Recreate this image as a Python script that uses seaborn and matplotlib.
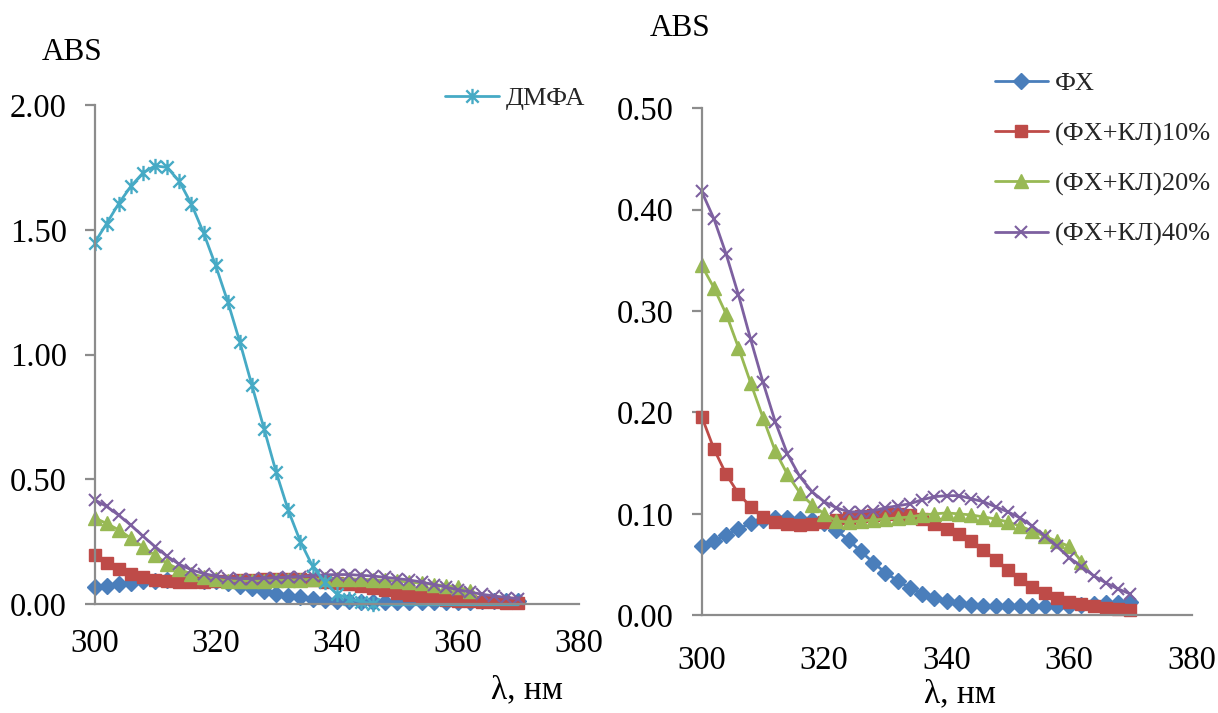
import matplotlib
matplotlib.use("Agg")
import matplotlib.pyplot as plt
import numpy as np
import pandas as pd
import seaborn as sns
from matplotlib.path import Path
from matplotlib.ticker import FormatStrFormatter, MultipleLocator

# ---------------- data ----------------
wavelength = [300, 302, 304, 306, 308, 310, 312, 314, 316, 318, 320, 322,
              324, 326, 328, 330, 332, 334, 336, 338, 340, 342, 344, 346,
              348, 350, 352, 354, 356, 358, 360, 362, 364, 366, 368, 370]

dmfa = [1.447, 1.525, 1.605, 1.674, 1.728, 1.756, 1.750, 1.694, 1.603, 1.488,
        1.357, 1.212, 1.050, 0.876, 0.702, 0.528, 0.375, 0.250, 0.152, 0.088,
        0.040, 0.022, 0.008, 0.002, -0.003, -0.003, -0.003, -0.003, -0.003,
        -0.003, -0.003, -0.003, -0.003, -0.003, -0.003, -0.003]

fx = [0.068, 0.073, 0.079, 0.085, 0.091, 0.094, 0.096, 0.096, 0.095, 0.094,
      0.091, 0.084, 0.074, 0.063, 0.052, 0.042, 0.034, 0.027, 0.021, 0.017,
      0.014, 0.012, 0.010, 0.0095, 0.009, 0.009, 0.009, 0.009, 0.009, 0.0095,
      0.0095, 0.010, 0.011, 0.012, 0.012, 0.013]

fx_kl10 = [0.196, 0.164, 0.139, 0.120, 0.107, 0.097, 0.092, 0.090, 0.089, 0.090,
           0.092, 0.094, 0.096, 0.098, 0.099, 0.100, 0.100, 0.099, 0.095, 0.090,
           0.085, 0.080, 0.073, 0.064, 0.055, 0.045, 0.036, 0.028, 0.022, 0.017,
           0.013, 0.011, 0.009, 0.007, 0.006, 0.005]

fx_kl20 = [0.345, 0.323, 0.297, 0.264, 0.229, 0.195, 0.162, 0.139, 0.121, 0.109,
           0.100, 0.093, 0.092, 0.093, 0.094, 0.095, 0.096, 0.097, 0.099, 0.100,
           0.101, 0.100, 0.099, 0.097, 0.095, 0.092, 0.088, 0.083, 0.078, 0.073,
           0.068, 0.053]

fx_kl40 = [0.418, 0.391, 0.356, 0.316, 0.272, 0.230, 0.191, 0.159, 0.137, 0.122,
           0.112, 0.106, 0.102, 0.102, 0.103, 0.106, 0.108, 0.110, 0.114, 0.117,
           0.118, 0.118, 0.115, 0.112, 0.107, 0.102, 0.096, 0.088, 0.078, 0.068,
           0.057, 0.048, 0.039, 0.032, 0.026, 0.021]

labels = ["ФХ", "(ФХ+КЛ)10%", "(ФХ+КЛ)20%", "(ФХ+КЛ)40%"]
dmfa_label = "ДМФА"
x_ticks = [300, 320, 340, 360, 380]
y_label = "ABS"
x_label = "λ, нм"

# ---------------- style ----------------
sns.set_theme(style="white")
plt.rcParams["font.family"] = ["Liberation Serif", "DejaVu Serif"]

W, H = 1218, 713
fig = plt.figure(figsize=(W / 100, H / 100), dpi=100)
fig.patch.set_facecolor("white")

axL = fig.add_axes([94.5 / W, 1 - 604 / H, (579 - 94.5) / W, (604 - 105) / H])
axR = fig.add_axes([701.7 / W, 1 - 615.3 / H, (1191.7 - 701.7) / W, (615.3 - 108.3) / H])

C_BLUE, C_RED, C_GREEN, C_PURPLE, C_CYAN = "#4A7EBB", "#BE4B48", "#98B954", "#7D60A0", "#46AAC5"

ast_verts = [(-0.5, -0.5), (0.5, 0.5), (-0.5, 0.5), (0.5, -0.5), (0.0, -0.62), (0.0, 0.62)]
ast_codes = [Path.MOVETO, Path.LINETO, Path.MOVETO, Path.LINETO, Path.MOVETO, Path.LINETO]
asterisk = Path(ast_verts, ast_codes)

series = [
    (fx, labels[0], C_BLUE, "D", 8.5, C_BLUE, 1.0),
    (fx_kl10, labels[1], C_RED, "s", 9.0, C_RED, 1.0),
    (fx_kl20, labels[2], C_GREEN, "^", 10.0, C_GREEN, 1.0),
    (fx_kl40, labels[3], C_PURPLE, "x", 9.0, "none", 1.5),
]


def draw_series(ax, with_labels):
    handles = []
    for vals, lab, col, mk, ms, mfc, mew in series:
        df = pd.DataFrame({"x": wavelength[:len(vals)], "y": vals})
        sns.lineplot(data=df, x="x", y="y", ax=ax, color=col, linewidth=2.0,
                     marker=mk, markersize=ms, markerfacecolor=mfc,
                     markeredgecolor=col, markeredgewidth=mew, clip_on=False,
                     label=lab if with_labels else None, legend=False)
        handles.append(ax.get_lines()[-1])
    return handles


def style_axes(ax, ymax, ystep, xpad):
    ax.set_xlim(300, 380)
    ax.set_ylim(0, ymax)
    ax.set_xticks(x_ticks)
    ax.yaxis.set_major_locator(MultipleLocator(ystep))
    ax.yaxis.set_major_formatter(FormatStrFormatter("%.2f"))
    for s in ["top", "right"]:
        ax.spines[s].set_visible(False)
    for s in ["left", "bottom"]:
        ax.spines[s].set_color("#8C8C8C")
        ax.spines[s].set_linewidth(1.6)
    ax.tick_params(axis="y", left=True, length=7, width=1.6, color="#8C8C8C",
                   pad=13, labelsize=23.5, labelcolor="black", direction="out")
    ax.tick_params(axis="x", bottom=True, length=0, pad=xpad, labelsize=23.5,
                   labelcolor="black")
    ax.set_xlabel("")
    ax.set_ylabel("")
    ax.grid(False)
    ax.set_facecolor("white")


# ---------------- left chart ----------------
draw_series(axL, False)
df_d = pd.DataFrame({"x": wavelength, "y": dmfa})
sns.lineplot(data=df_d, x="x", y="y", ax=axL, color=C_CYAN, linewidth=2.0,
             marker=asterisk, markersize=11, markerfacecolor="none",
             markeredgecolor=C_CYAN, markeredgewidth=1.7, clip_on=False,
             markevery=list(range(24)), label=dmfa_label, legend=False)
h_dmfa = axL.get_lines()[-1]
style_axes(axL, 2.0, 0.5, 18)
axL.legend(handles=[h_dmfa], labels=[dmfa_label], loc="center left",
           bbox_to_anchor=(445 / W, 1 - 98.5 / H), bbox_transform=fig.transFigure,
           frameon=False, fontsize=19, handlelength=2.05, handletextpad=0.25,
           borderpad=0, borderaxespad=0)

# ---------------- right chart ----------------
hR = draw_series(axR, True)
style_axes(axR, 0.5, 0.1, 22)
axR.legend(handles=hR, labels=labels, loc="center left",
           bbox_to_anchor=(995 / W, 1 - 159 / H), bbox_transform=fig.transFigure,
           frameon=False, fontsize=19, handlelength=2.0, handletextpad=0.25,
           labelspacing=1.0, borderpad=0, borderaxespad=0)

# ---------------- texts ----------------
fig.text(72.5 / W, 1 - 52 / H, y_label, ha="center", va="center", fontsize=22.5, color="black")
fig.text(680 / W, 1 - 28 / H, y_label, ha="center", va="center", fontsize=22.5, color="black")
fig.text(527 / W, 1 - 690 / H, x_label, ha="center", va="center", fontsize=24, color="black")
fig.text(960 / W, 1 - 694 / H, x_label, ha="center", va="center", fontsize=24, color="black")

fig.savefig("out.png", dpi=100, facecolor="white")
